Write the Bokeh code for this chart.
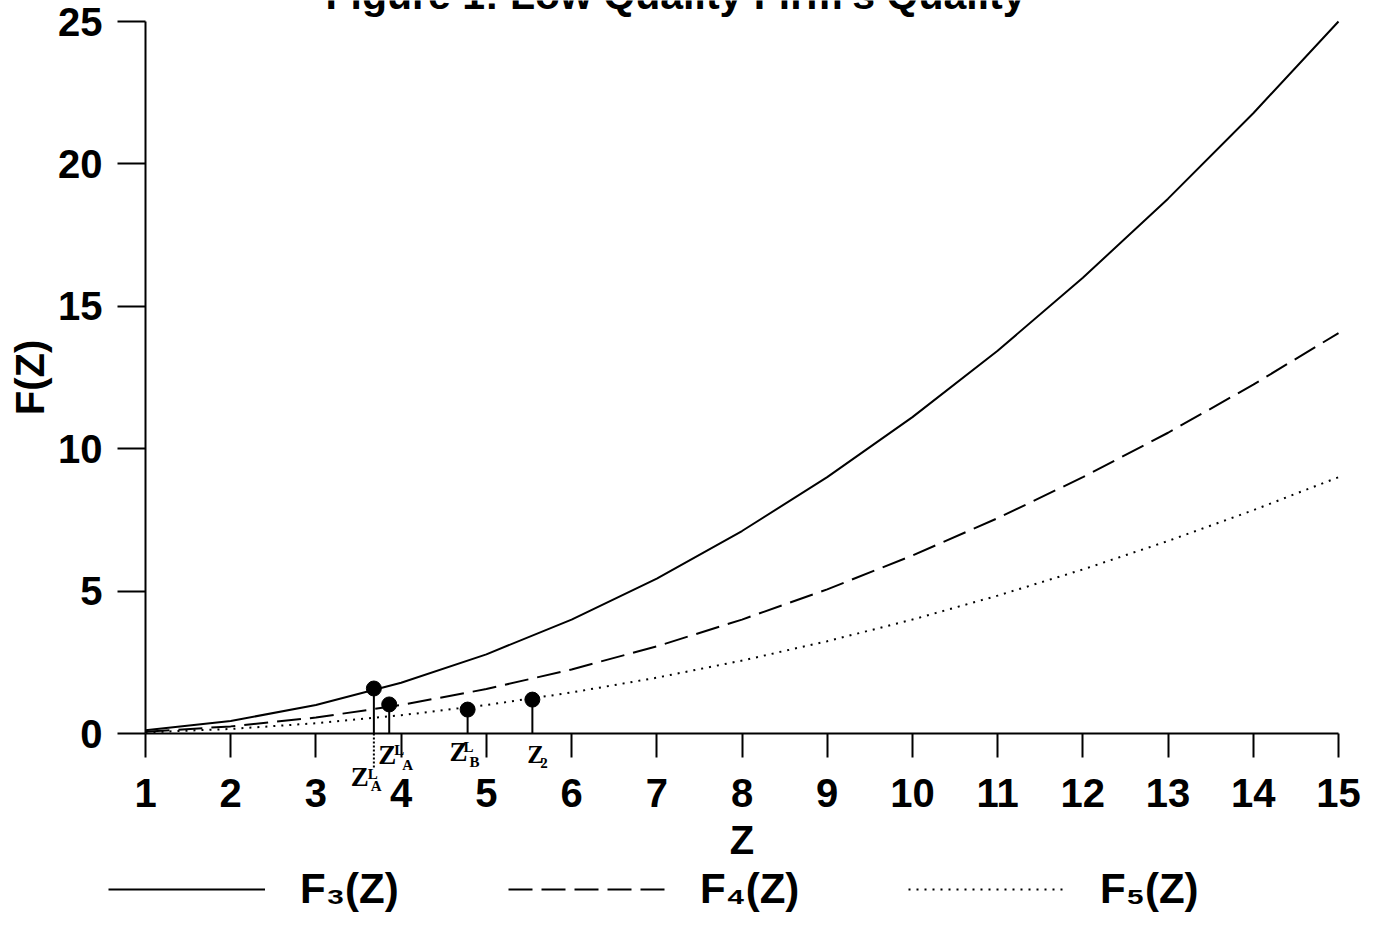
from bokeh.plotting import figure
from bokeh.models import Legend, LegendItem, Range1d, FixedTicker
from bokeh.embed import file_html
from bokeh.resources import INLINE
from bokeh.core.properties import value

# ---------------- data ----------------
z_values = [1, 2, 3, 4, 5, 6, 7, 8, 9, 10, 11, 12, 13, 14, 15]
f3_values = [0.11, 0.44, 1.0, 1.78, 2.78, 4.0, 5.44, 7.11, 9.0, 11.11, 13.44, 16.0, 18.78, 21.78, 25.0]
f4_values = [0.06, 0.25, 0.56, 1.0, 1.56, 2.25, 3.06, 4.0, 5.06, 6.25, 7.56, 9.0, 10.56, 12.25, 14.06]
f5_values = [0.04, 0.16, 0.36, 0.64, 1.0, 1.44, 1.96, 2.56, 3.24, 4.0, 4.84, 5.76, 6.76, 7.84, 9.0]
series_names = ["F\u2083(Z)", "F\u2084(Z)", "F\u2085(Z)"]

x_ticks = [1, 2, 3, 4, 5, 6, 7, 8, 9, 10, 11, 12, 13, 14, 15]
y_ticks = [0, 5, 10, 15, 20, 25]

point_z = [3.68, 3.86, 4.78, 5.54]
point_f = [1.58, 1.02, 0.84, 1.19]
point_main = ["Z", "Z", "Z", "Z"]
point_sup = ["L", "L", "L", ""]
point_sub = ["A", "A", "B", "2"]

title_text = "Figure 1: Low Quality Firm's Quality"
x_label = "Z"
y_label = "F(Z)"

# ---------------- layout constants (pixels) ----------------
W, H = 1377, 917                # whole picture is the plotting frame
AX_LEFT, AX_RIGHT = 145, 1338   # pixel x of Z=1 and Z=15
AX_TOP, AX_BOTTOM = 21, 733     # pixel y of F=25 and F=0
PX_X = (AX_RIGHT - AX_LEFT) / (x_ticks[-1] - x_ticks[0])
PX_Y = (AX_BOTTOM - AX_TOP) / (y_ticks[-1] - y_ticks[0])
BASELINE_FIX = 0.38             # renderer puts "alphabetic" baseline this many em lower

x_lo = x_ticks[0] - AX_LEFT / PX_X
x_hi = x_ticks[0] + (W - AX_LEFT) / PX_X
y_lo = y_ticks[0] - (H - AX_BOTTOM) / PX_Y
y_hi = y_ticks[-1] + AX_TOP / PX_Y

SANS = "Liberation Sans"
SERIF = "Liberation Serif"

p = figure(frame_width=W, frame_height=H, title=None,
           min_border=0, min_border_left=0, min_border_right=0,
           min_border_top=0, min_border_bottom=0,
           x_range=Range1d(x_lo, x_hi), y_range=Range1d(y_lo, y_hi),
           output_backend="svg", toolbar_location=None)
p.outline_line_color = None
p.xgrid.visible = False
p.ygrid.visible = False
p.background_fill_color = "white"
p.border_fill_color = "white"

for ax in (p.xaxis, p.yaxis):
    ax.axis_line_width = 2
    ax.axis_line_color = "black"
    ax.major_tick_line_width = 2
    ax.major_tick_line_color = "black"
    ax.major_tick_in = 0
    ax.minor_tick_in = 0
    ax.minor_tick_out = 0
    ax.major_label_text_font = SANS
    ax.major_label_text_font_style = "bold"
    ax.major_label_text_font_size = "40px"
    ax.major_label_text_color = "black"
    ax.axis_label_text_font = SANS
    ax.axis_label_text_font_style = "bold"
    ax.axis_label_text_font_size = "40px"
    ax.axis_label_text_color = "black"

p.xaxis.fixed_location = y_ticks[0]
p.yaxis.fixed_location = x_ticks[0]
p.xaxis.bounds = (x_ticks[0], x_ticks[-1])
p.yaxis.bounds = (y_ticks[0], y_ticks[-1])
p.xaxis.ticker = FixedTicker(ticks=x_ticks)
p.yaxis.ticker = FixedTicker(ticks=y_ticks)
p.xaxis.major_tick_out = 24
p.yaxis.major_tick_out = 28
p.xaxis.major_label_standoff = 21
p.yaxis.major_label_standoff = 15
p.xaxis.axis_label = x_label
p.yaxis.axis_label = y_label
p.xaxis.axis_label_standoff = 8
p.yaxis.axis_label_standoff = 3

# curves
r3 = p.line(z_values, f3_values, line_width=2, line_color="black")
r4 = p.line(z_values, f4_values, line_width=2, line_color="black", line_dash="24 9")
r5 = p.line(z_values, f5_values, line_width=2, line_color="black", line_dash="2 6")

# stems and points
p.segment(x0=point_z, y0=[0] * len(point_z), x1=point_z, y1=point_f,
          line_width=2, line_color="black")
p.scatter(point_z, point_f, size=15, fill_color="black", line_color="black")

# dotted extension of the first stem below the axis
p.segment(x0=[point_z[0]], y0=[0], x1=[point_z[0]], y1=[-35 / PX_Y],
          line_width=2, line_color="black", line_dash="2 2")


def baseline_y(px_below_axis, font_px):
    """data y for a text whose baseline should sit px_below_axis under F=0"""
    return -(px_below_axis - BASELINE_FIX * font_px) / PX_Y


# point labels (Z with superscript / subscript); offsets in pixels
main_off = [(-23, 54), (-11, 32), (-18, 29), (-5, 30)]
sup_off = [(-6, 46), (5, 22), (-4, 19), (0, 0)]
sub_off = [(-3, 58), (13, 37), (2, 34), (8, 35)]
main_size = [27, 27, 27, 25]
script_size = 15
for i in range(len(point_z)):
    for txt, off, size in ((point_main[i], main_off[i], main_size[i]),
                           (point_sup[i], sup_off[i], script_size),
                           (point_sub[i], sub_off[i], script_size)):
        if not txt:
            continue
        p.text(x=[point_z[i]], y=[baseline_y(off[1], size)], text=[txt], x_offset=off[0],
               text_font=value(SERIF), text_font_style="bold",
               text_font_size=f"{size}px", text_color="black",
               text_align="left", text_baseline="alphabetic")

# title, partially cut off at the top as in the reference (baseline at pixel y=10)
TITLE_PX = 41
p.text(x=[x_ticks[0] + (675 - AX_LEFT) / PX_X],
       y=[y_ticks[-1] + (AX_TOP - 10 + BASELINE_FIX * TITLE_PX) / PX_Y],
       text=[title_text], text_font=value(SANS), text_font_style="bold",
       text_font_size=f"{TITLE_PX}px", text_color="black", text_align="center",
       text_baseline="alphabetic")

legend = Legend(items=[LegendItem(label=series_names[0], renderers=[r3]),
                       LegendItem(label=series_names[1], renderers=[r4]),
                       LegendItem(label=series_names[2], renderers=[r5])],
                orientation="horizontal", location=(108, 4),
                glyph_width=157, glyph_height=20, label_standoff=35,
                label_width=178, spacing=30, padding=0, margin=0,
                border_line_color=None, background_fill_alpha=0,
                label_text_font=SANS, label_text_font_style="bold",
                label_text_font_size="42px", label_text_color="black")
p.add_layout(legend, "center")

open("out.html", "w").write(file_html(p, INLINE))
